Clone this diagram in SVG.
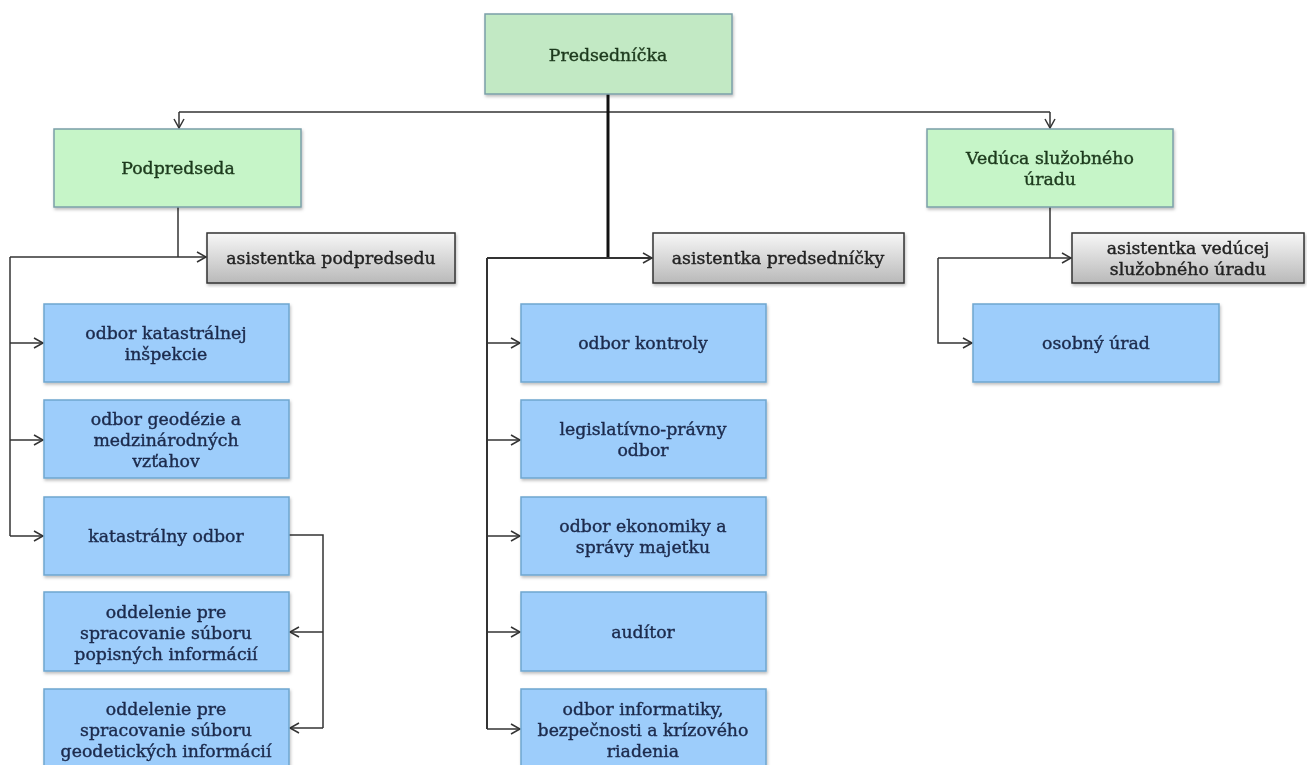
<svg xmlns="http://www.w3.org/2000/svg" width="1307" height="765" viewBox="0 0 1307 765">
<style>
.g{fill:#c6f5c8;stroke:#7b9fa8;stroke-width:1.5}
.g2{fill:#c2e9c4;stroke:#7b9fa8;stroke-width:1.5}
.b{fill:#9dcdfb;stroke:#6fa6cf;stroke-width:1.5}
.s{fill:url(#gr);stroke:#333;stroke-width:1.5}
text{font-family:"DejaVu Serif","Liberation Serif",serif;font-size:17.3px;text-anchor:middle;stroke-width:0.4px}
.tg{fill:#1d3a1d;stroke:#1d3a1d}
.tb{fill:#1c2a4c;stroke:#1c2a4c}
.ts{fill:#222;stroke:#222}
.c{fill:none;stroke:#333;stroke-width:1.5}
.k{fill:none;stroke:#111;stroke-width:3}
</style>
<defs>
<linearGradient id="gr" x1="0" y1="0" x2="0" y2="1"><stop offset="0" stop-color="#f7f7f7"/><stop offset="1" stop-color="#b9b9b9"/></linearGradient>
<filter id="sh" x="-5%" y="-5%" width="110%" height="115%"><feDropShadow dx="1" dy="2" stdDeviation="1.5" flood-color="#000" flood-opacity="0.25"/></filter>
<marker id="a" markerWidth="12" markerHeight="12" refX="10" refY="6" orient="auto" markerUnits="userSpaceOnUse"><path d="M1,1 L10,6 L1,11" fill="none" stroke="#333" stroke-width="1.5"/></marker>
</defs>
<g id="connectors">
<path class="c" d="M179,112 H1050"/>
<path class="c" d="M179,112 V128" marker-end="url(#a)"/>
<path class="c" d="M1050,112 V128" marker-end="url(#a)"/>
<path class="k" d="M608,94 V258"/>
<path class="c" style="stroke-width:2" d="M487,258 H652" marker-end="url(#a)"/>
<path class="c" style="stroke-width:2" d="M487,258 V729"/>
<path class="c" d="M487,343 H520" marker-end="url(#a)"/>
<path class="c" d="M487,440 H520" marker-end="url(#a)"/>
<path class="c" d="M487,536 H520" marker-end="url(#a)"/>
<path class="c" d="M487,632 H520" marker-end="url(#a)"/>
<path class="c" d="M487,729 H520" marker-end="url(#a)"/>
<path class="c" d="M178,207 V257"/>
<path class="c" d="M10,257 H206" marker-end="url(#a)"/>
<path class="c" d="M10,257 V536"/>
<path class="c" d="M10,343 H43" marker-end="url(#a)"/>
<path class="c" d="M10,440 H43" marker-end="url(#a)"/>
<path class="c" d="M10,536 H43" marker-end="url(#a)"/>
<path class="c" d="M289,535 H323 V728"/>
<path class="c" d="M323,632 H290" marker-end="url(#a)"/>
<path class="c" d="M323,728 H290" marker-end="url(#a)"/>
<path class="c" d="M1050,207 V258"/>
<path class="c" d="M938,258 H1071" marker-end="url(#a)"/>
<path class="c" d="M938,258 V343 H972" marker-end="url(#a)"/>
</g>
<g id="predsednicka" filter="url(#sh)"><rect class="g2" x="485" y="14" width="247" height="80"/><text class="tg" x="608" y="61">Predsedníčka</text></g>
<g id="podpredseda" filter="url(#sh)"><rect class="g" x="54" y="129" width="247" height="78"/><text class="tg" x="178" y="174">Podpredseda</text></g>
<g id="veduca" filter="url(#sh)"><rect class="g" x="927" y="129" width="246" height="78"/><text class="tg" x="1050" y="164">Vedúca služobného</text><text class="tg" x="1050" y="185">úradu</text></g>
<g id="asist-podpredsedu" filter="url(#sh)"><rect class="s" x="207" y="233" width="248" height="50"/><text class="ts" x="331" y="264">asistentka podpredsedu</text></g>
<g id="asist-predsednicky" filter="url(#sh)"><rect class="s" x="653" y="233" width="251" height="50"/><text class="ts" x="778" y="264">asistentka predsedníčky</text></g>
<g id="asist-veducej" filter="url(#sh)"><rect class="s" x="1072" y="233" width="232" height="50"/><text class="ts" x="1188" y="254">asistentka vedúcej</text><text class="ts" x="1188" y="275">služobného úradu</text></g>
<g id="osobny" filter="url(#sh)"><rect class="b" x="973" y="304" width="246" height="78"/><text class="tb" x="1096" y="349">osobný úrad</text></g>
<g id="kat-insp" filter="url(#sh)"><rect class="b" x="44" y="304" width="245" height="78"/><text class="tb" x="166" y="339">odbor katastrálnej</text><text class="tb" x="166" y="360">inšpekcie</text></g>
<g id="geodezie" filter="url(#sh)"><rect class="b" x="44" y="400" width="245" height="78"/><text class="tb" x="166" y="425">odbor geodézie a</text><text class="tb" x="166" y="446">medzinárodných</text><text class="tb" x="166" y="467">vzťahov</text></g>
<g id="katastralny" filter="url(#sh)"><rect class="b" x="44" y="497" width="245" height="78"/><text class="tb" x="166" y="542">katastrálny odbor</text></g>
<g id="popisnych" filter="url(#sh)"><rect class="b" x="44" y="592" width="245" height="79"/><text class="tb" x="166" y="618">oddelenie pre</text><text class="tb" x="166" y="639">spracovanie súboru</text><text class="tb" x="166" y="660">popisných informácií</text></g>
<g id="geodetickych" filter="url(#sh)"><rect class="b" x="44" y="689" width="245" height="80"/><text class="tb" x="166" y="715">oddelenie pre</text><text class="tb" x="166" y="736">spracovanie súboru</text><text class="tb" x="166" y="757">geodetických informácií</text></g>
<g id="kontroly" filter="url(#sh)"><rect class="b" x="521" y="304" width="245" height="78"/><text class="tb" x="643" y="349">odbor kontroly</text></g>
<g id="legislativno" filter="url(#sh)"><rect class="b" x="521" y="400" width="245" height="78"/><text class="tb" x="643" y="435">legislatívno-právny</text><text class="tb" x="643" y="456">odbor</text></g>
<g id="ekonomiky" filter="url(#sh)"><rect class="b" x="521" y="497" width="245" height="78"/><text class="tb" x="643" y="532">odbor ekonomiky a</text><text class="tb" x="643" y="553">správy majetku</text></g>
<g id="auditor" filter="url(#sh)"><rect class="b" x="521" y="592" width="245" height="79"/><text class="tb" x="643" y="638">audítor</text></g>
<g id="informatiky" filter="url(#sh)"><rect class="b" x="521" y="689" width="245" height="80"/><text class="tb" x="643" y="715">odbor informatiky,</text><text class="tb" x="643" y="736">bezpečnosti a krízového</text><text class="tb" x="643" y="757">riadenia</text></g>
</svg>
